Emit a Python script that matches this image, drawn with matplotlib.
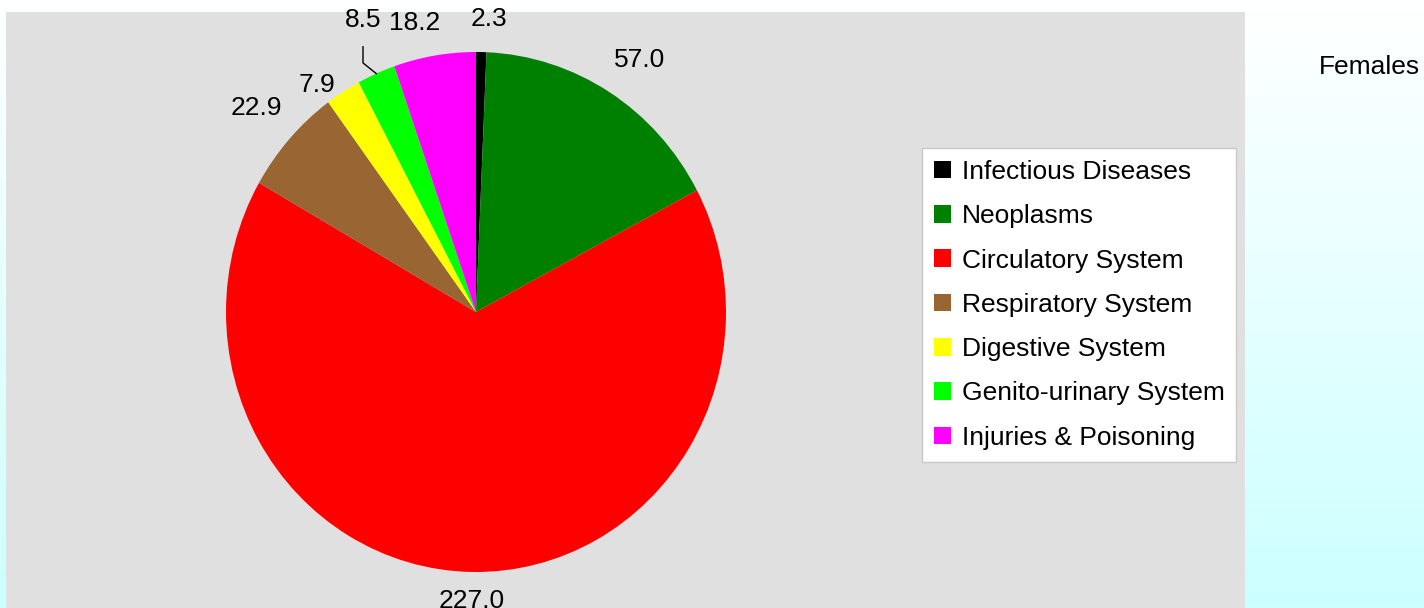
import numpy as np
import matplotlib
matplotlib.use("Agg")
import matplotlib.pyplot as plt
from matplotlib.patches import Rectangle

plt.rcParams['font.family'] = ['Liberation Sans', 'DejaVu Sans']

# data
categories = ['Infectious Diseases', 'Neoplasms', 'Circulatory System',
              'Respiratory System', 'Digestive System',
              'Genito-urinary System', 'Injuries & Poisoning']
values = [2.3, 57.0, 227.0, 22.9, 7.9, 8.5, 18.2]
colors = ['#000000', '#008000', '#FF0000', '#996633', '#FFFF00', '#00FF00', '#FF00FF']
title = 'Females'

W, H = 1424, 608
fig = plt.figure(figsize=(W / 100, H / 100), dpi=100)

# background gradient white -> light cyan
bg = fig.add_axes([0, 0, 1, 1], zorder=-10)
grad = np.linspace(0, 1, 256).reshape(-1, 1)
top = np.array([1.0, 1.0, 1.0])
bot = np.array([0.80, 1.0, 1.0])
img = top + (bot - top) * grad[..., None]
bg.imshow(img, aspect='auto', extent=[0, 1, 0, 1])
bg.set_axis_off()

# gray plot area
fig.patches.append(Rectangle((6 / W, 0), (1245 - 6) / W, (H - 12) / H,
                             transform=fig.transFigure, facecolor='#E0E0E0',
                             edgecolor='none', zorder=-5))

# pie axes: centre at (476, 312) px, radii 250 x 260 px
cx, cy, rx, ry = 476, 312, 250, 260
ax = fig.add_axes([0, 0, 1, 1])
ax.patch.set_visible(False)
wedges, _ = ax.pie(values, colors=colors, startangle=90, counterclock=False,
                   wedgeprops=dict(linewidth=0))
ax.set_aspect('auto')
ax.set_xlim(-cx / rx, (W - cx) / rx)
ax.set_ylim(-(H - cy) / ry, cy / ry)
ax.set_axis_off()

# data labels: radial distance and angle tweak per slice
label_r = [1.13, 1.17, 1.11, 1.18, 1.08, 1.21, 1.14]
label_dt = [-1.5, -1.7, 0, 0, 4, -1.5, 3]
for w, v, r, dt in zip(wedges, values, label_r, label_dt):
    t = np.deg2rad((w.theta1 + w.theta2) / 2 + dt)
    ax.text(r * np.cos(t), r * np.sin(t), f'{v:.1f}', ha='center', va='center',
            fontsize=19)

# leader line for the genito-urinary label
g = wedges[5]
tg = np.deg2rad((g.theta1 + g.theta2) / 2)
ax.plot([-0.452, -0.452, np.cos(tg)], [1.02, 0.958, np.sin(tg)],
        color='black', linewidth=1)

leg = fig.legend(wedges, categories, loc='upper left',
                 bbox_to_anchor=(922 / W, 1 - 148 / H), fontsize=19,
                 frameon=True, fancybox=False, framealpha=1,
                 handlelength=0.65, handleheight=0.65, handletextpad=0.4,
                 labelspacing=0.77, borderpad=0.45, borderaxespad=0)
leg.get_frame().set_edgecolor('#C8C8C8')
leg.get_frame().set_linewidth(1)

fig.text(1420 / W, 1 - 67 / H, title, ha='right', va='center', fontsize=19)

fig.savefig('out.png', dpi=100)
